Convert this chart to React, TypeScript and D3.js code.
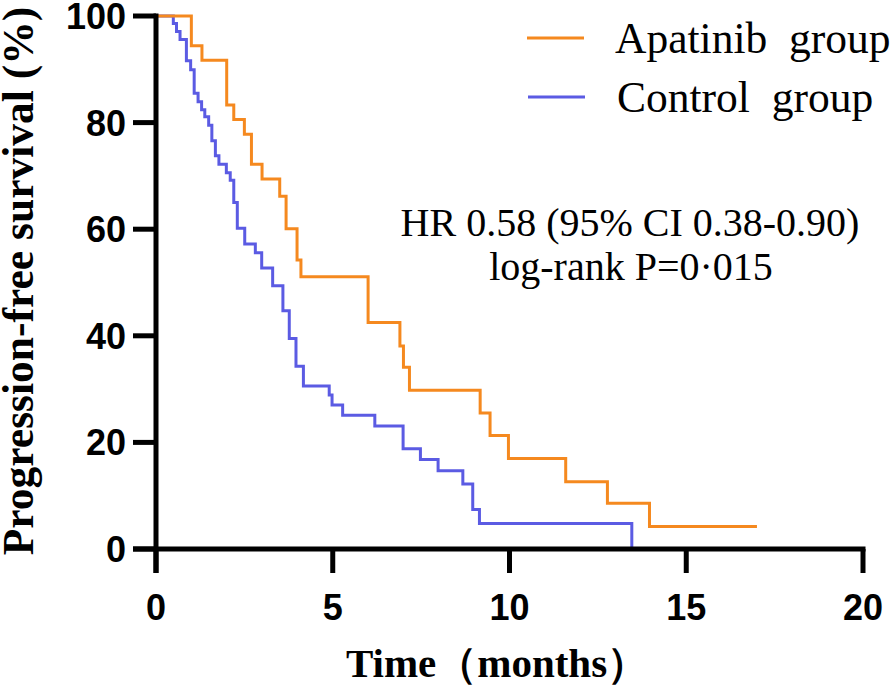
import React from "react";
import * as d3 from "d3";

const xTicks = [0, 5, 10, 15, 20];
const yTicks = [0, 20, 40, 60, 80, 100];

const apatinibTimes = [0, 1.0, 1.3, 2.0, 2.2, 2.5, 2.7, 3.0, 3.5, 3.68, 3.99, 4.1, 6.0, 6.9, 7.0, 7.17, 9.17, 9.45, 9.97, 11.59, 12.77, 13.96, 17.0];
const apatinibSurv = [100, 94.4, 91.7, 83.3, 80.6, 77.8, 72.2, 69.4, 66.2, 60.1, 54.2, 51.1, 42.5, 38.1, 34.1, 29.8, 25.5, 21.3, 17.0, 12.6, 8.6, 4.2, 4.2];

const controlTimes = [0, 0.49, 0.58, 0.68, 0.86, 0.98, 1.08, 1.19, 1.29, 1.38, 1.49, 1.58, 1.68, 1.78, 1.99, 2.1, 2.2, 2.3, 2.51, 2.81, 2.99, 3.3, 3.59, 3.77, 3.96, 4.17, 4.9, 4.98, 5.28, 6.19, 6.99, 7.48, 7.98, 8.68, 8.96, 9.15, 13.46];
const controlSurv = [100, 98.6, 97.1, 95.6, 91.6, 89.9, 85.5, 83.9, 82.4, 81.1, 79.5, 76.6, 73.8, 72.2, 70.6, 69.2, 65.0, 60.2, 57.2, 55.6, 52.7, 49.4, 44.7, 39.5, 34.3, 30.6, 28.9, 27.0, 25.1, 23.1, 18.8, 16.8, 14.7, 12.2, 7.4, 4.8, 0];

const seriesNames = ["Apatinib  group", "Control  group"];
const seriesColors = ["#F5891F", "#5B5BE3"];
const annotation = ["HR 0.58 (95% CI 0.38-0.90)", "log-rank P=0·015"];

export default function App() {
  const W = 894, H = 687;
  const x = d3.scaleLinear().domain([0, 20]).range([156, 863]);
  const y = d3.scaleLinear().domain([0, 100]).range([549, 16]);
  const line = d3.line<[number, number]>().x(d => x(d[0])).y(d => y(d[1])).curve(d3.curveStepAfter);
  const apa: [number, number][] = apatinibTimes.map((t, i) => [t, apatinibSurv[i]]);
  const ctl: [number, number][] = controlTimes.map((t, i) => [t, controlSurv[i]]);
  const serif = "'Liberation Serif', 'Times New Roman', serif";
  const sans = "'Liberation Sans', Arial, sans-serif";
  return (
    <svg width={W} height={H} style={{ position: "absolute", left: 0, top: 0, background: "#fff" }}>
      <path d={line(ctl) || ""} fill="none" stroke={seriesColors[1]} strokeWidth={3} />
      <path d={line(apa) || ""} fill="none" stroke={seriesColors[0]} strokeWidth={3} />
      <line x1={x(0)} x2={x(0)} y1={y(100) - 2.5} y2={y(0) + 24} stroke="#000" strokeWidth={5} />
      <line x1={x(0) - 23} x2={x(20) + 2.5} y1={y(0)} y2={y(0)} stroke="#000" strokeWidth={5} />
      {yTicks.map(v => (
        <g key={"y" + v}>
          <line x1={x(0) - 23} x2={x(0)} y1={y(v)} y2={y(v)} stroke="#000" strokeWidth={5} />
          <text x={126} y={y(v)} dy="0.36em" textAnchor="end" fontFamily={sans} fontWeight="bold" fontSize={36}>{v}</text>
        </g>
      ))}
      {xTicks.map(v => (
        <g key={"x" + v}>
          <line x1={x(v)} x2={x(v)} y1={y(0)} y2={y(0) + 24} stroke="#000" strokeWidth={5} />
          <text x={x(v)} y={620} textAnchor="middle" fontFamily={sans} fontWeight="bold" fontSize={36}>{v}</text>
        </g>
      ))}
      <text x={497} y={677} textAnchor="middle" fontFamily={serif} fontWeight="bold" fontSize={41}>Time（months）</text>
      <text transform="translate(33,281) rotate(-90)" textAnchor="middle" fontFamily={serif} fontWeight="bold" fontSize={43.5}>Progression-free survival (%)</text>
      <line x1={527} x2={584} y1={38} y2={38} stroke={seriesColors[0]} strokeWidth={3} />
      <line x1={528} x2={585} y1={97} y2={97} stroke={seriesColors[1]} strokeWidth={3} />
      <text x={615} y={53} fontFamily={serif} fontSize={43.5} style={{ whiteSpace: "pre" }}>{seriesNames[0]}</text>
      <text x={617} y={112} fontFamily={serif} fontSize={43.5} style={{ whiteSpace: "pre" }}>{seriesNames[1]}</text>
      <text x={630} y={236} textAnchor="middle" fontFamily={serif} fontSize={40}>{annotation[0]}</text>
      <text x={631} y={280} textAnchor="middle" fontFamily={serif} fontSize={40}>{annotation[1]}</text>
    </svg>
  );
}
